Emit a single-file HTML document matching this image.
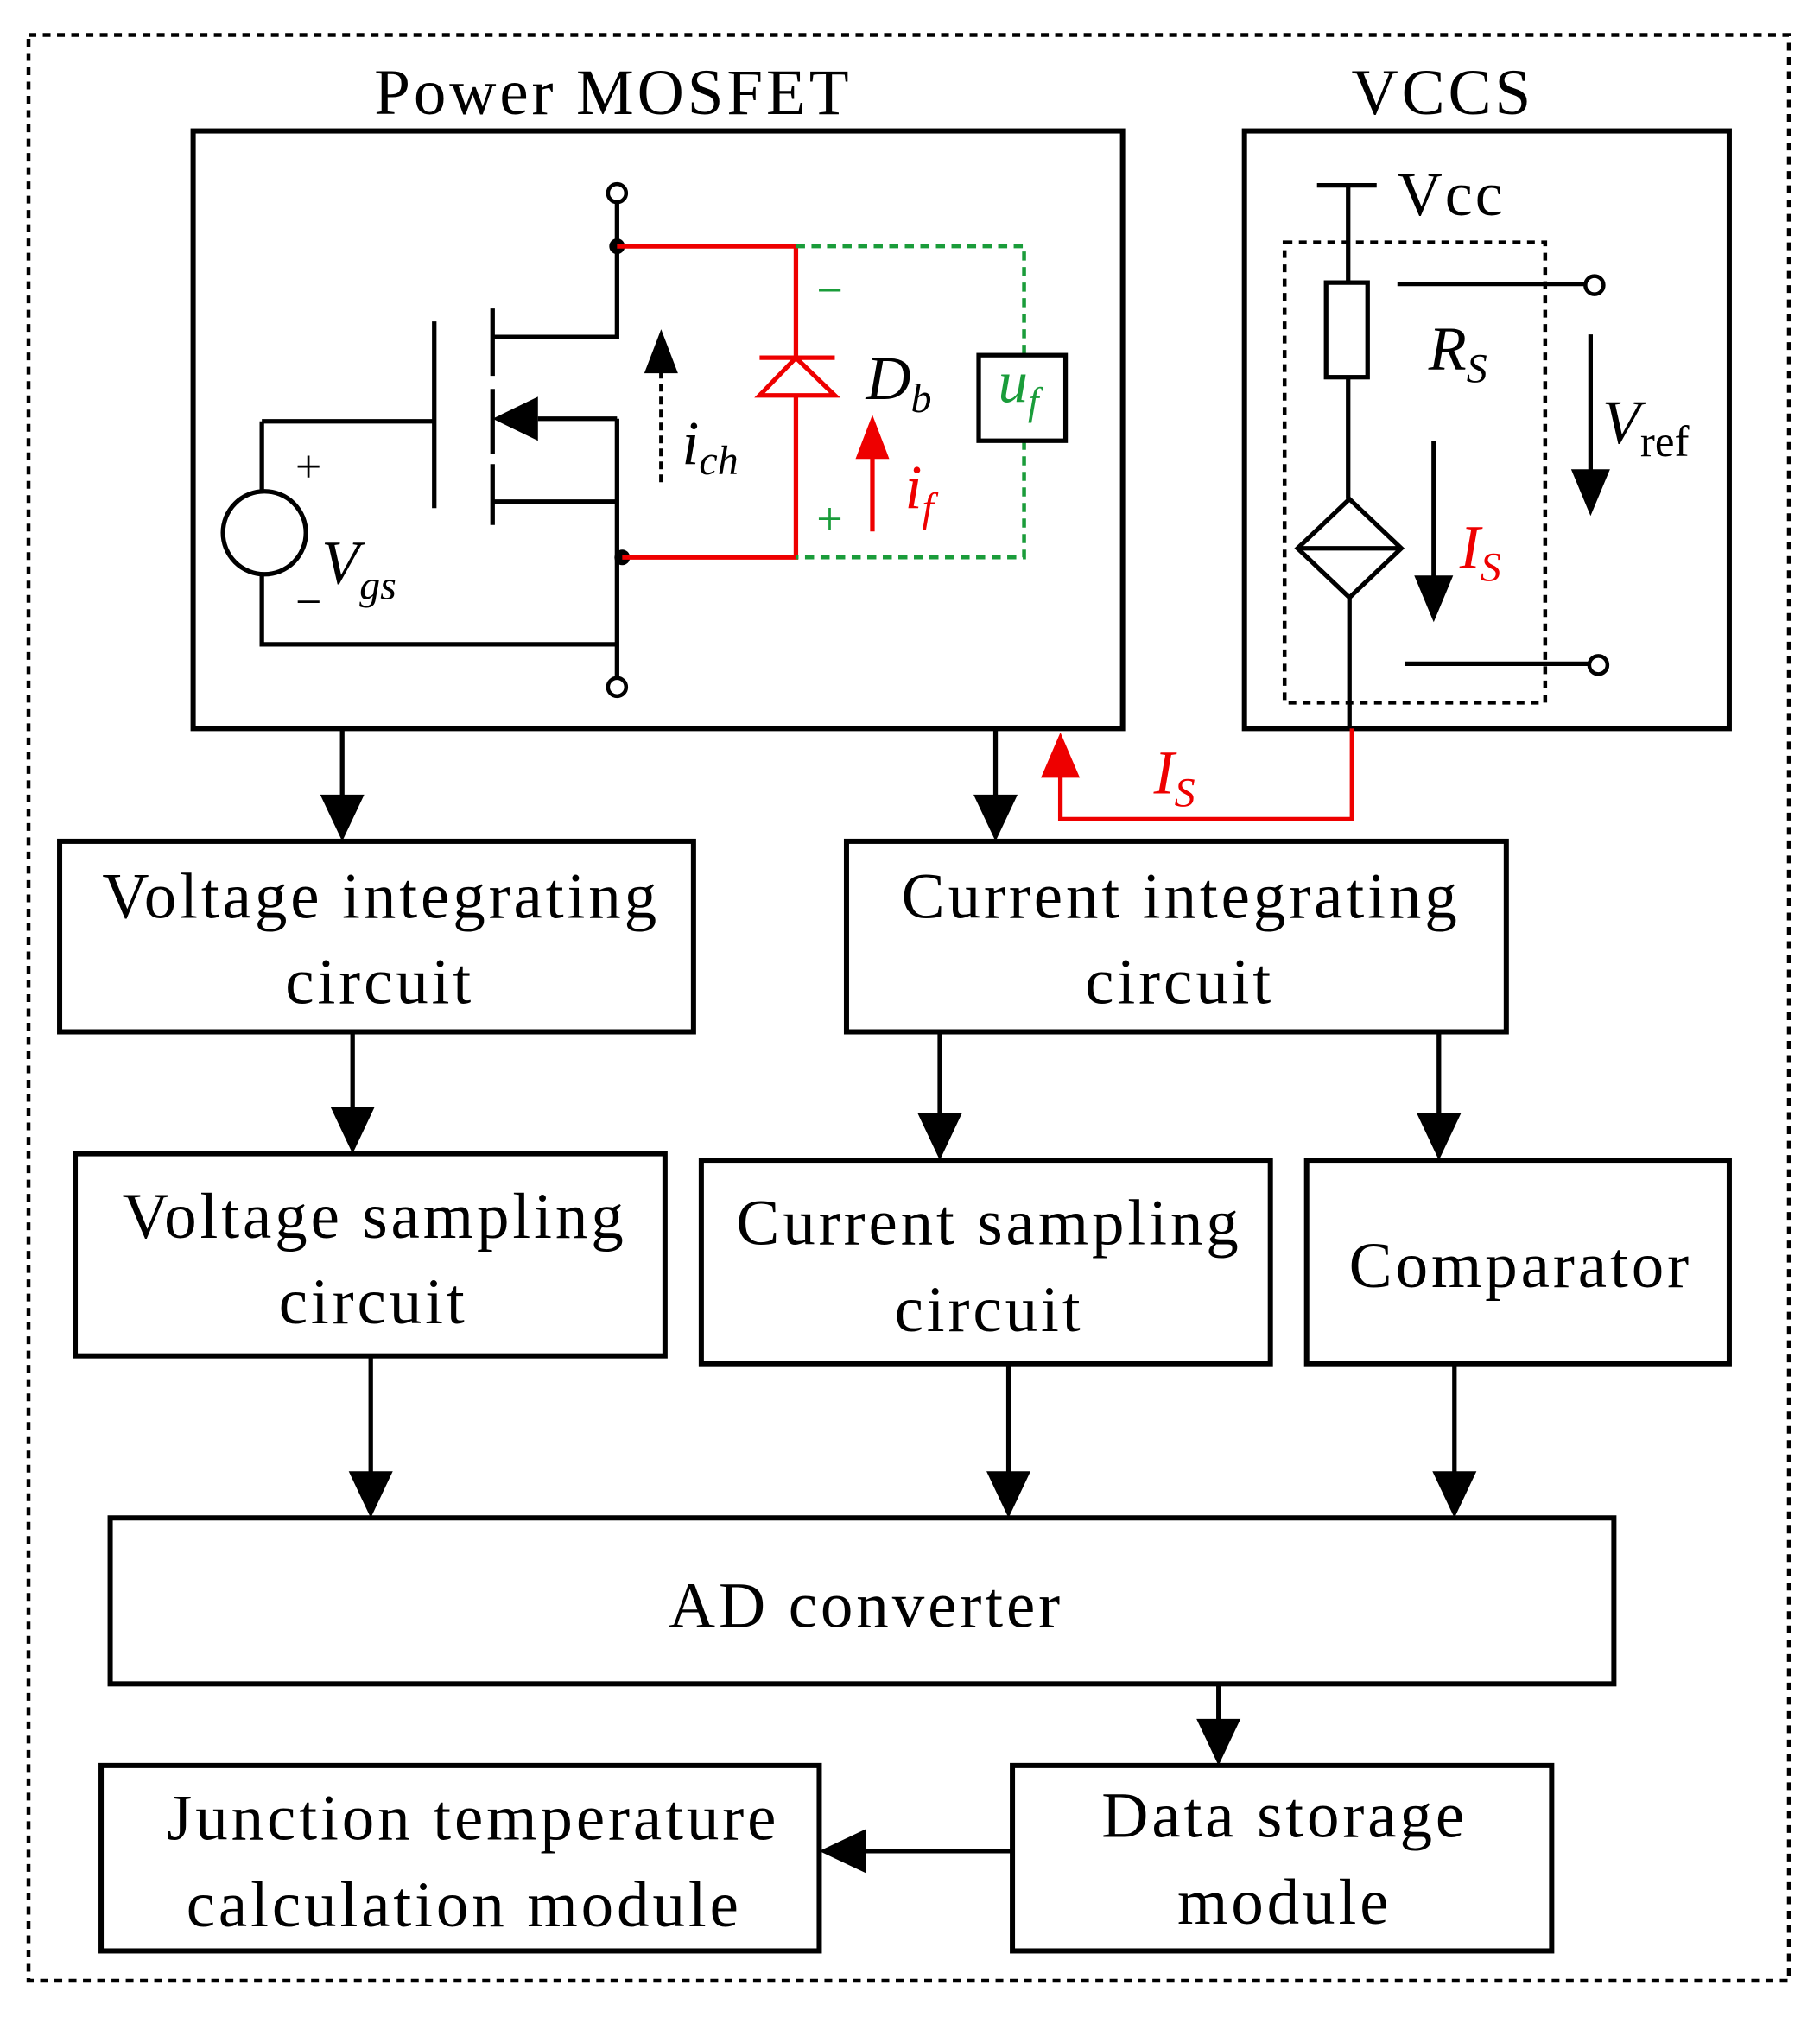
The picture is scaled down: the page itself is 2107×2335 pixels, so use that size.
<!DOCTYPE html>
<html><head><meta charset="utf-8"><style>html,body{margin:0;padding:0;background:#fff}svg{display:block}</style></head>
<body>
<svg width="2107" height="2335" viewBox="0 0 1404 1556" preserveAspectRatio="none" xmlns="http://www.w3.org/2000/svg" font-family="Liberation Serif, serif">
<style>
.b{fill:none;stroke:#000;stroke-width:4}
.l{fill:none;stroke:#000;stroke-width:3.5}
.r{fill:none;stroke:#e00;stroke-width:3.5}
.g{fill:none;stroke:#1a9c3a;stroke-width:3;stroke-dasharray:7,5}
.t{font-size:50px;text-anchor:middle;letter-spacing:2.6px}
</style>
<rect x="22" y="27" width="1358" height="1501" fill="none" stroke="#000" stroke-width="3" stroke-dasharray="6,5"/>
<text x="473" y="88" class="t">Power MOSFET</text>
<text x="1113" y="88" class="t">VCCS</text>
<rect x="149" y="101" width="717" height="461" class="b"/>
<rect x="960" y="101" width="374" height="461" class="b"/>

<!-- MOSFET -->
<circle cx="476" cy="149" r="7" fill="#fff" stroke="#000" stroke-width="3"/>
<circle cx="476" cy="530" r="7" fill="#fff" stroke="#000" stroke-width="3"/>
<path d="M476 156 V260 H380 M380 238 V290 M380 300 V350 M380 358 V405 M335 248 V392 M202 325 H335 M380 387 H476 M476 323 V523 M415 323 H476 M202 325 V380 M202 443 V497 H476" class="l"/>
<path d="M380 323 L415 306 L415 340 Z" fill="#000"/>
<circle cx="204" cy="411" r="32" class="l"/>
<circle cx="476" cy="190" r="6" fill="#000"/>
<circle cx="480" cy="430" r="6" fill="#000"/>
<text x="238" y="372" font-size="36" text-anchor="middle">+</text>
<text x="238" y="476" font-size="36" text-anchor="middle">−</text>
<text x="248" y="450" font-size="48" font-style="italic">V<tspan font-size="32" dy="12">gs</tspan></text>

<path d="M476 190 H614 V430 H480" class="r"/>
<path d="M614 276 L586 305 H644 Z" fill="#fff" stroke="#e00" stroke-width="3.5"/>
<path d="M586 276 H644" class="r"/>
<path d="M614 190 H790 V274 M790 340 V430 H614" class="g"/>
<rect x="755" y="274" width="67" height="66" class="l"/>
<text x="770" y="310" font-size="46" font-style="italic" fill="#1a9c3a">u<tspan font-size="30" dy="10">f</tspan></text>
<text x="640" y="236" font-size="36" fill="#1a9c3a" text-anchor="middle">−</text>
<text x="640" y="412" font-size="36" fill="#1a9c3a" text-anchor="middle">+</text>
<text x="668" y="308" font-size="48" font-style="italic">D<tspan font-size="32" dy="10">b</tspan></text>
<path d="M673 410 V350" stroke="#e00" stroke-width="3.5"/>
<path d="M673 320 L660 354 H686 Z" fill="#e00"/>
<text x="698" y="392" font-size="48" font-style="italic" fill="#e00">i<tspan font-size="32" dy="10">f</tspan></text>
<path d="M510 372 V285" stroke="#000" stroke-width="3" stroke-dasharray="6,4"/>
<path d="M510 254 L497 288 H523 Z" fill="#000"/>
<text x="526" y="358" font-size="48" font-style="italic">i<tspan font-size="32" dy="8">ch</tspan></text>

<!-- VCCS -->
<rect x="991" y="187" width="201" height="355" fill="none" stroke="#000" stroke-width="3" stroke-dasharray="6,5"/>
<path d="M1016 143 H1062 M1040 143 V218 M1040 291 V385 M1041 461 V562" class="l"/>
<rect x="1023" y="218" width="32" height="73" class="l"/>
<path d="M1041 385 L1081 423 L1041 461 L1001 423 Z M1001 423 H1081" class="l"/>
<text x="1078" y="166" font-size="48" letter-spacing="2">Vcc</text>
<path d="M1078 219 H1223 M1084 512 H1226" class="l"/>
<circle cx="1230" cy="220" r="7" fill="#fff" stroke="#000" stroke-width="3"/>
<circle cx="1233" cy="513" r="7" fill="#fff" stroke="#000" stroke-width="3"/>
<text x="1102" y="285" font-size="48" font-style="italic">R<tspan font-size="32" dy="10">S</tspan></text>
<path d="M1227 258 V370" class="l"/>
<path d="M1227 398 L1212 362 H1242 Z" fill="#000"/>
<text x="1236" y="342" font-size="48" font-style="italic">V<tspan font-size="34" dy="10" font-style="normal">ref</tspan></text>
<path d="M1106 340 V450" class="l"/>
<path d="M1106 480 L1091 444 H1121 Z" fill="#000"/>
<text x="1126" y="438" font-size="48" font-style="italic" fill="#e00">I<tspan font-size="32" dy="10">S</tspan></text>
<path d="M1043 562 V632 H818 V595" class="r"/>
<path d="M818 565 L803 600 H833 Z" fill="#e00"/>
<text x="890" y="612" font-size="48" font-style="italic" fill="#e00">I<tspan font-size="32" dy="10">S</tspan></text>

<!-- blocks -->
<rect x="46" y="649" width="489" height="147" class="b"/>
<text x="294" y="708" class="t">Voltage integrating</text><text x="293" y="774" class="t">circuit</text>
<rect x="653" y="649" width="509" height="147" class="b"/>
<text x="911" y="708" class="t">Current integrating</text><text x="910" y="774" class="t">circuit</text>
<rect x="58" y="890" width="455" height="156" class="b"/>
<text x="289" y="955" class="t">Voltage sampling</text><text x="288" y="1021" class="t">circuit</text>
<rect x="541" y="895" width="439" height="157" class="b"/>
<text x="763" y="960" class="t">Current sampling</text><text x="763" y="1027" class="t">circuit</text>
<rect x="1008" y="895" width="326" height="157" class="b"/>
<text x="1173" y="993" class="t">Comparator</text>
<rect x="85" y="1171" width="1160" height="128" class="b"/>
<text x="668" y="1255" class="t">AD converter</text>
<rect x="78" y="1362" width="554" height="143" class="b"/>
<text x="365" y="1419" class="t">Junction temperature</text><text x="358" y="1486" class="t">calculation module</text>
<rect x="781" y="1362" width="416" height="143" class="b"/>
<text x="991" y="1417" class="t">Data storage</text><text x="991" y="1484" class="t">module</text>

<!-- arrows -->
<g class="l">
<path d="M264 562 V620"/><path d="M768 562 V620"/><path d="M272 796 V860"/><path d="M725 796 V865"/><path d="M1110 796 V865"/><path d="M286 1046 V1141"/><path d="M778 1052 V1141"/><path d="M1122 1052 V1141"/><path d="M940 1299 V1332"/><path d="M781 1428 H662"/>
</g>
<g fill="#000">
<path d="M264 649 L247 613 H281 Z"/><path d="M768 649 L751 613 H785 Z"/><path d="M272 890 L255 854 H289 Z"/><path d="M725 895 L708 859 H742 Z"/><path d="M1110 895 L1093 859 H1127 Z"/><path d="M286 1171 L269 1135 H303 Z"/><path d="M778 1171 L761 1135 H795 Z"/><path d="M1122 1171 L1105 1135 H1139 Z"/><path d="M940 1362 L923 1326 H957 Z"/><path d="M632 1428 L668 1411 V1445 Z"/>
</g>
</svg>
</body></html>
